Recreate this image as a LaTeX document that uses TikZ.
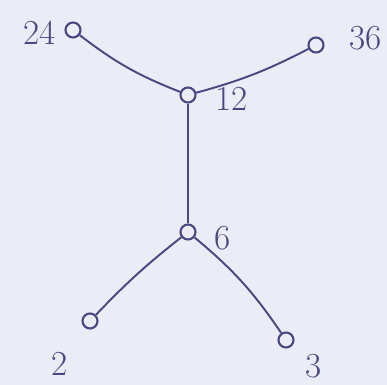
\documentclass[tikz,border=0pt]{standalone}
\usepackage{tikz}
\usetikzlibrary{positioning}
\definecolor{inkblue}{RGB}{72,72,130}
\definecolor{paper}{RGB}{236,236,246}

\begin{document}
\begin{tikzpicture}[x=0.02cm, y=-0.02cm, thick]
  \tikzstyle{vert} = [circle, draw=inkblue, line width=1.2pt, fill=paper, minimum size=0.3cm, inner sep=0pt]
  \tikzstyle{num} = [text=inkblue, font=\fontsize{20}{24}\selectfont]
  \tikzstyle{edge} = [draw=inkblue, line width=1.1pt]

  \fill[paper] (0,0) rectangle (387,385);
  \useasboundingbox (0,0) rectangle (387,385);

  \node[vert] (v24) at (73,30) {};
  \node[vert] (v36) at (316,45) {};
  \node[vert] (v12) at (188,95) {};
  \node[vert] (v6) at (188,232) {};
  \node[vert] (v2) at (90,321) {};
  \node[vert] (v3) at (286,340) {};

  \node[num] (l24) at (40,33) {24};
  \node[num] (l36) at (366,38) {36};
  \node[num] (l12) at (232,99) {12};
  \node[num] (l6) at (223,238) {6};
  \node[num] (l2) at (60,364) {2};
  \node[num] (l3) at (314,366) {3};

  \draw[edge] (v24) to[bend right=8] (v12);
  \draw[edge] (v36) to[bend left=6] (v12);
  \draw[edge] (v12) -- (v6);
  \draw[edge] (v6) to[bend right=4] (v2);
  \draw[edge] (v6) to[bend left=8] (v3);
\end{tikzpicture}
\end{document}
